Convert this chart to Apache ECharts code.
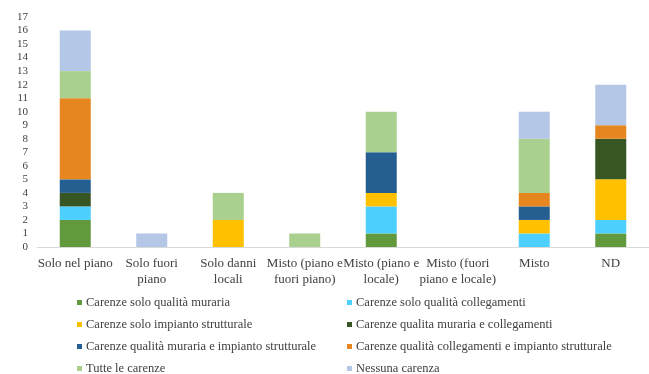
<!DOCTYPE html>
<html>
<head>
<meta charset="utf-8">
<script src="https://cdn.jsdelivr.net/npm/echarts@6/dist/echarts.min.js"></script>
<style>
html, body { margin: 0; padding: 0; background: #fff; }
#chart { width: 649px; height: 374px; }
</style>
</head>
<body>
<div id="chart"></div>
<script>
var categories = ['Solo nel piano', 'Solo fuori\npiano', 'Solo danni\nlocali', 'Misto (piano e\nfuori piano)',
    'Misto (piano e\nlocale)', 'Misto (fuori\npiano e locale)', 'Misto', 'ND'];

var seriesNames = [
    'Carenze solo qualità muraria',
    'Carenze solo qualità collegamenti',
    'Carenze solo impianto strutturale',
    'Carenze qualita muraria e collegamenti',
    'Carenze qualità muraria e impianto strutturale',
    'Carenze qualità collegamenti e impianto strutturale',
    'Tutte le carenze',
    'Nessuna carenza'
];

var muraria = [2, 0, 0, 0, 1, 0, 0, 1];
var collegamenti = [1, 0, 0, 0, 2, 0, 1, 1];
var impianto = [0, 0, 2, 0, 1, 0, 1, 3];
var murariaColl = [1, 0, 0, 0, 0, 0, 0, 3];
var murariaImp = [1, 0, 0, 0, 3, 0, 1, 0];
var collImp = [6, 0, 0, 0, 0, 0, 1, 1];
var tutte = [2, 0, 2, 1, 3, 0, 4, 0];
var nessuna = [3, 1, 0, 0, 0, 0, 2, 3];

var seriesData = [muraria, collegamenti, impianto, murariaColl, murariaImp, collImp, tutte, nessuna];
var colors = ['#63993d', '#4dd0ff', '#ffc000', '#375623', '#255e91', '#e6861e', '#a9d08e', '#b4c7e7'];

var myChart = echarts.init(document.getElementById('chart'));

var font = 'Liberation Serif, Times New Roman, serif';

// two legend columns, each stacked vertically
var legendBase = {
    orient: 'vertical',
    top: 296,
    height: 90,
    padding: 0,
    itemWidth: 5,
    itemHeight: 5,
    itemGap: 9,
    icon: 'rect',
    textStyle: {
        color: '#404040',
        fontSize: 12.5,
        fontFamily: font,
        lineHeight: 12,
        padding: [0, 0, 0, -1]
    }
};

var option = {
    animation: false,
    color: colors,
    grid: {
        left: 37,
        right: -14,
        top: 17,
        height: 230
    },
    legend: [
        Object.assign({}, legendBase, {
            left: 77,
            data: [seriesNames[0], seriesNames[2], seriesNames[4], seriesNames[6]]
        }),
        Object.assign({}, legendBase, {
            left: 347,
            data: [seriesNames[1], seriesNames[3], seriesNames[5], seriesNames[7]]
        })
    ],
    xAxis: {
        type: 'category',
        data: categories,
        axisLine: { lineStyle: { color: '#d9d9d9', width: 1 } },
        axisTick: { show: false },
        axisLabel: {
            interval: 0,
            color: '#404040',
            fontSize: 13,
            fontFamily: font,
            lineHeight: 16,
            margin: 9
        }
    },
    yAxis: {
        type: 'value',
        min: 0,
        max: 17,
        interval: 1,
        axisLine: { show: false },
        axisTick: { show: false },
        splitLine: { show: false },
        axisLabel: {
            color: '#404040',
            fontSize: 11,
            fontFamily: font,
            margin: 9
        }
    },
    series: seriesNames.map(function (name, i) {
        return {
            name: name,
            type: 'bar',
            stack: 'total',
            barWidth: 31,
            data: seriesData[i]
        };
    })
};

myChart.setOption(option);
</script>
</body>
</html>
